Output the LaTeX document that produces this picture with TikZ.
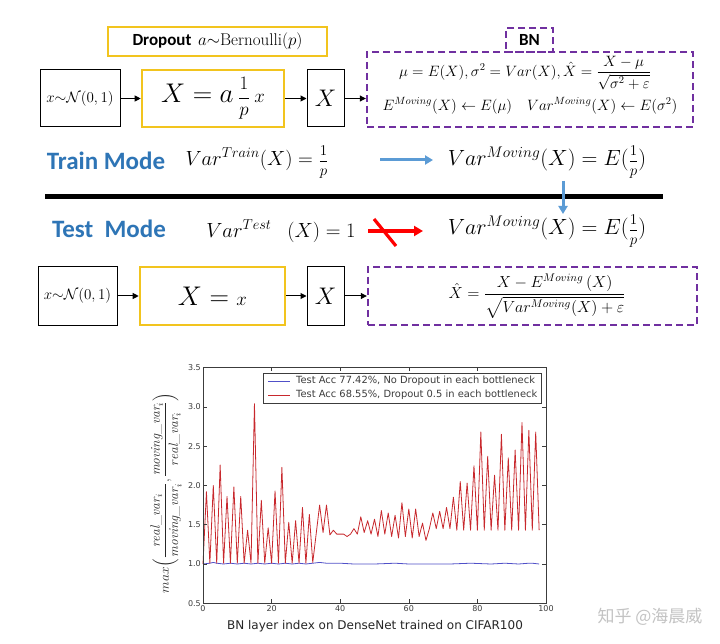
\RequirePackage{fix-cm}
\documentclass[tikz,border=0pt]{standalone}
\usepackage{amsmath}
\usepackage{fontspec}
\usetikzlibrary{arrows.meta}
\newfontfamily\calibri{Carlito}
\newfontfamily\dejavu{DejaVu Sans}
\newfontfamily\cjk{Noto Sans CJK SC}
\definecolor{gold}{RGB}{242,196,30}
\definecolor{bnpurple}{RGB}{112,48,160}
\definecolor{modeblue}{RGB}{46,117,182}
\definecolor{arrowblue}{RGB}{91,155,213}
\definecolor{plotred}{RGB}{200,40,45}
\definecolor{plotblue}{RGB}{80,80,200}
\definecolor{axgray}{RGB}{60,60,60}
\definecolor{wmgray}{RGB}{195,195,195}
\newcommand{\smfrac}[3]{{\fontsize{#1}{#1}\selectfont$\dfrac{#2}{#3}$}}
\begin{document}
\begin{tikzpicture}[x=1pt,y=-1pt,
  box/.style={draw, line width=1pt, inner sep=0pt},
  ybox/.style={draw=gold, line width=2.6pt, inner sep=0pt},
  pbox/.style={draw=bnpurple, line width=2.4pt, dash pattern=on 7pt off 4pt, inner sep=0pt},
  arr/.style={-{Triangle[length=6pt,width=6pt]}, line width=1pt},
  barr/.style={-{Triangle[length=8pt,width=9pt]}, line width=3pt, draw=arrowblue},
  rarr/.style={-{Triangle[length=9pt,width=10pt]}, line width=3.2pt, draw=red},
  modetxt/.style={text=modeblue, font=\calibri\bfseries\fontsize{25}{29}\selectfont},
  eq/.style={font=\fontsize{20.5}{25}\selectfont, inner sep=0pt},
  eqb/.style={font=\fontsize{22}{26}\selectfont, inner sep=0pt},
  ticklab/.style={font=\dejavu\fontsize{8}{9}\selectfont, text=axgray, inner sep=2pt},
  legtxt/.style={font=\dejavu\fontsize{9.9}{11}\selectfont, text=axgray, anchor=west, inner sep=0pt},
]
\useasboundingbox (0,0) rectangle (720,644);
\fill[white] (0,0) rectangle (720,644);

% ---------- top row ----------
\node[ybox, minimum width=219pt, minimum height=29pt] (drop) at (217.5,41.5)
  {{\calibri\bfseries\fontsize{17}{20}\selectfont Dropout}\ \ {\fontsize{17}{20}\selectfont$a{\sim}\mathrm{Bernoulli}(p)$}};
\node[pbox, minimum width=47pt, minimum height=24pt] (bnl) at (529.5,40)
  {\calibri\bfseries\fontsize{17}{20}\selectfont BN};

\node[box, minimum width=80pt, minimum height=57pt] (n1) at (80,98.5)
  {\fontsize{15}{18}\selectfont $x{\sim}\mathcal{N}(0,1)$};
\node[ybox, minimum width=142pt, minimum height=57pt] (n2) at (213,98.5)
  {\fontsize{27}{30}\selectfont $X=a\,$\smfrac{19}{1}{p}$\,{\scriptstyle x}$};
\node[box, minimum width=37pt, minimum height=57pt] (n3) at (325.5,98.5)
  {\fontsize{24}{28}\selectfont $X$};
\node[pbox, minimum width=326pt, minimum height=75pt] (bn) at (530,89.5) {};
\node[inner sep=0pt] (bnf1) at (525,73)
  {\fontsize{15}{17}\selectfont $\mu=E(X),\sigma^2=Var(X),\hat{X}=\dfrac{X-\mu}{\sqrt{\sigma^2+\varepsilon}}$};
\node[inner sep=0pt] (bnf2) at (530,106)
  {\fontsize{15}{17}\selectfont $E^{Moving}(X)\leftarrow E(\mu)\quad Var^{Moving}(X)\leftarrow E(\sigma^2)$};

\draw[arr] (n1) -- (n2);
\draw[arr] (n2) -- (n3);
\draw[arr] (n3.east) -- (n3.east -| bn.west);

% ---------- modes ----------
\node[modetxt] (train) at (106,161) {Train Mode};
\node[eq] (vtr) at (257,162) {$Var^{Train}(X)=\;$\smfrac{15}{1}{p}};
\node[eqb] (vmv1) at (547,162) {$Var^{Moving}(X)=E($\smfrac{15}{1}{p}$)$};
\coordinate (ta1) at (380,160);
\coordinate (ta2) at (433,160);
\draw[barr] (ta1) -- (ta2);

\coordinate (L1) at (45,197);
\coordinate (L2) at (663,197);
\draw[line width=5pt] (L1) -- (L2);

\coordinate (da1) at (563,181);
\coordinate (da2) at (563,214);
\draw[barr] (da1) -- (da2);

\node[modetxt] (test) at (109,229) {Test\ \ Mode};
\node[eq] (vte) at (281,231) {$Var^{Test}\ \ \,(X)=1$};
\node[eqb] (vmv2) at (547,231) {$Var^{Moving}(X)=E($\smfrac{15}{1}{p}$)$};
\coordinate (ra1) at (368,231);
\coordinate (ra2) at (423,231);
\draw[rarr] (ra1) -- (ra2);
\coordinate (rs1) at (374,219);
\coordinate (rs2) at (396,246);
\draw[line width=3.2pt, red] (rs1) -- (rs2);

% ---------- bottom row ----------
\node[box, minimum width=79pt, minimum height=58pt] (m1) at (77.5,296)
  {\fontsize{15}{18}\selectfont $x{\sim}\mathcal{N}(0,1)$};
\node[ybox, minimum width=145pt, minimum height=58pt] (m2) at (212.5,296)
  {\fontsize{27}{30}\selectfont $X={\scriptstyle x}$};
\node[box, minimum width=37pt, minimum height=58pt] (m3) at (325.5,296)
  {\fontsize{24}{28}\selectfont $X$};
\node[pbox, minimum width=329pt, minimum height=58pt] (m4) at (532.5,296) {};
\node[inner sep=0pt] (m4f) at (537,296)
  {\fontsize{16}{18}\selectfont $\hat{X}=\dfrac{X-E^{Moving}\,(X)}{\sqrt{Var^{Moving}(X)+\varepsilon}}$};
\draw[arr] (m1) -- (m2);
\draw[arr] (m2) -- (m3);
\draw[arr] (m3) -- (m4);

% ---------- plot ----------
\begin{scope}[shift={(203,642.6)}, x=3.43pt, y=78.6pt]
  \draw[plotblue, line width=0.8pt] plot coordinates {
    (0,1.00) (2,1.01) (3,1.02) (4,1.01) (6,1.00) (8,1.01) (10,1.00) (12,1.01) (14,1.00)
    (16,1.01) (18,1.00) (20,1.01) (22,1.00) (24,1.01) (26,1.00) (28,1.01) (30,1.00)
    (32,1.01) (34,1.02) (36,1.01) (40,1.01) (44,1.00) (50,1.00) (56,1.01) (60,1.00)
    (66,1.00) (72,1.00) (78,1.01) (84,1.00) (88,1.01) (92,1.00) (95,1.01) (96,1.01) (98,1.00)};
  \draw[plotred, line width=0.8pt, line join=round] plot coordinates {
    (0,1.00) (1,1.92) (2,1.01) (3,2.00) (4,1.01) (5,2.26) (6,1.01) (7,1.86) (8,1.01)
    (9,1.98) (10,1.01) (11,1.86) (12,1.01) (13,1.43) (14,1.01) (15,3.04) (16,1.01)
    (17,1.81) (18,1.01) (19,1.46) (20,1.01) (21,1.93) (22,1.01) (23,2.23) (24,1.01)
    (25,1.53) (26,1.01) (27,1.55) (28,1.01) (29,1.72) (30,1.01) (31,1.63) (32,1.02)
    (34,1.75) (35,1.40) (36,1.75) (37,1.37) (38,1.43) (39,1.38) (40,1.38) (41,1.38)
    (42,1.35) (43,1.38) (44,1.45) (45,1.38) (46,1.60) (47,1.40) (48,1.55) (49,1.38)
    (50,1.57) (51,1.35) (52,1.68) (53,1.38) (54,1.65) (55,1.35) (56,1.62) (57,1.33)
    (58,1.78) (59,1.35) (60,1.70) (61,1.33) (62,1.70) (63,1.35) (64,1.52) (65,1.30)
    (66,1.45) (67,1.65) (68,1.45) (69,1.67) (70,1.45) (71,1.72) (72,1.45) (73,1.85)
    (74,1.43) (75,2.05) (76,1.43) (77,2.03) (78,1.43) (79,2.25) (80,1.43) (81,2.68)
    (82,1.43) (83,2.37) (84,1.43) (85,2.13) (86,1.43) (87,2.65) (88,1.43) (89,2.35)
    (90,1.43) (91,2.45) (92,1.43) (93,2.80) (94,1.43) (95,2.70) (96,1.43) (97,2.68)
    (98,1.43)};
  \draw[axgray, line width=0.8pt] (0,0.5) rectangle (100,3.5);
  \foreach \t in {0,20,40,60,80,100} {
    \draw[axgray, line width=0.6pt] (\t,0.5) -- ++(0,0.05);
    \draw[axgray, line width=0.6pt] (\t,3.5) -- ++(0,-0.05);
    \node[ticklab, below] (xt\t) at (\t,0.5) {\t};
  }
  \foreach \v/\n in {0.5/a,1.0/b,1.5/c,2.0/d,2.5/e,3.0/f,3.5/g} {
    \draw[axgray, line width=0.6pt] (0,\v) -- ++(1.2,0);
    \draw[axgray, line width=0.6pt] (100,\v) -- ++(-1.2,0);
    \node[ticklab, left] (yt\n) at (0,\v) {\v};
  }
\end{scope}

% legend
\node[draw=axgray, line width=0.7pt, minimum width=278pt, minimum height=30pt, inner sep=0pt] (leg) at (402,388) {};
\coordinate (lb1) at (268,381);
\coordinate (lb2) at (290,381);
\coordinate (lr1) at (268,395);
\coordinate (lr2) at (290,395);
\draw[plotblue, line width=0.8pt] (lb1) -- (lb2);
\draw[plotred, line width=0.8pt] (lr1) -- (lr2);
\node[legtxt] (legb) at (296,381) {Test Acc 77.42\%, No Dropout in each bottleneck};
\node[legtxt] (legr) at (296,395) {Test Acc 68.55\%, Dropout 0.5 in each bottleneck};

% axis labels
\node[font=\dejavu\fontsize{12}{14}\selectfont, text=black!85] (xlab) at (375,626)
  {BN layer index on DenseNet trained on CIFAR100};
\node[rotate=90, text=black!85, inner sep=0pt] (ylab) at (166,493)
  {\fontsize{13.5}{16}\selectfont $max\Big(\dfrac{\mathit{real\_var}_i}{\mathit{moving\_var}_i},\dfrac{\mathit{moving\_var}_i}{\mathit{real\_var}_i}\Big)$};

% watermark
\node[text=wmgray] (wm) at (650,617) {\cjk\fontsize{17}{20}\selectfont 知乎 @海晨威};
\end{tikzpicture}
\end{document}
